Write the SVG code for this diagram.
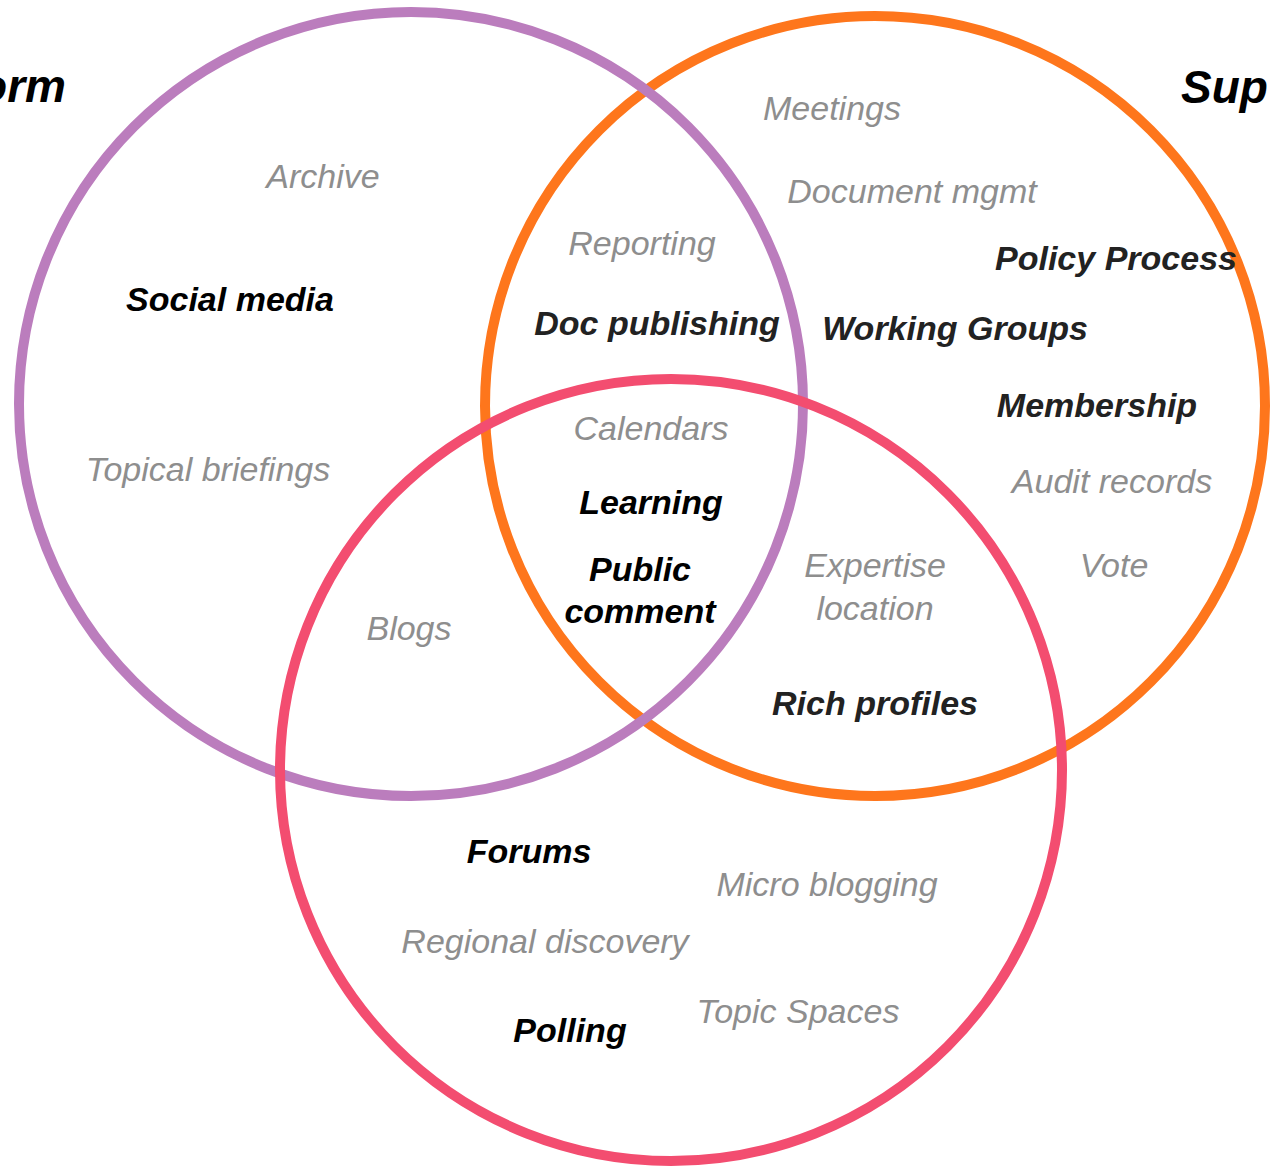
<svg xmlns="http://www.w3.org/2000/svg" width="1270" height="1168" viewBox="0 0 1270 1168">
<style>
.ring{fill:none;stroke-width:10}
.t{font-family:"Liberation Sans",Arial,sans-serif;font-style:italic;text-anchor:middle;font-size:34px}
.g{fill:#8e8e8e}
.b{font-weight:bold;fill:#000}
.d{font-weight:bold;fill:#222}
.h{font-family:"Liberation Sans",Arial,sans-serif;font-style:italic;font-weight:bold;font-size:46px;fill:#000}
</style>
<rect width="1270" height="1168" fill="#fff"/>
<g id="sets">
<circle id="set-right" class="ring" cx="875" cy="406" r="390" stroke="#fe761c"/>
<circle id="set-left" class="ring" cx="411" cy="404" r="392" stroke="#bb7dbd"/>
<circle id="set-bottom" class="ring" cx="671" cy="770" r="391" stroke="#f34d70"/>
</g>
<g id="titles">
<text class="h" x="66" y="102" text-anchor="end">orm</text>
<text class="h" x="1181" y="103">Sup</text>
</g>
<g id="labels">
<text class="t g" x="323" y="188">Archive</text>
<text class="t b" x="230" y="311">Social media</text>
<text class="t g" x="208" y="481">Topical briefings</text>
<text class="t g" x="642" y="255">Reporting</text>
<text class="t d" x="657" y="335">Doc publishing</text>
<text class="t g" x="832" y="120">Meetings</text>
<text class="t g" x="912" y="203">Document mgmt</text>
<text class="t d" x="1116" y="270">Policy Process</text>
<text class="t d" x="955" y="340">Working Groups</text>
<text class="t d" x="1097" y="417">Membership</text>
<text class="t g" x="1112" y="493">Audit records</text>
<text class="t g" x="1114" y="577">Vote</text>
<text class="t g" x="651" y="440">Calendars</text>
<text class="t b" x="651" y="514">Learning</text>
<text class="t b" x="640" y="581">Public</text>
<text class="t b" x="640" y="623">comment</text>
<text class="t g" x="875" y="577">Expertise</text>
<text class="t g" x="875" y="620">location</text>
<text class="t d" x="875" y="715">Rich profiles</text>
<text class="t g" x="409" y="640">Blogs</text>
<text class="t b" x="529" y="863">Forums</text>
<text class="t g" x="827" y="896">Micro blogging</text>
<text class="t g" x="545" y="953">Regional discovery</text>
<text class="t g" x="798" y="1023">Topic Spaces</text>
<text class="t b" x="570" y="1042">Polling</text>
</g>
</svg>
